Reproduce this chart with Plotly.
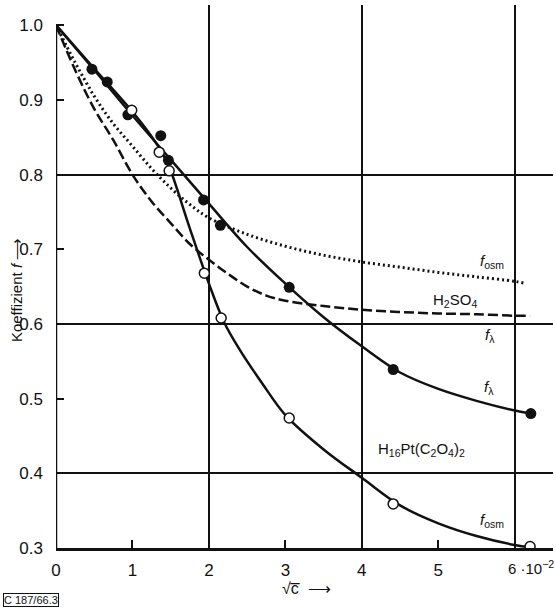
import plotly.graph_objects as go

# ---------------- data ----------------
# H16Pt(C2O4)2 : f_lambda curve and measured points (filled)
flam_curve_x = [0, 0.5, 1.0, 1.5, 2.0, 2.5, 3.0, 3.5, 4.0, 4.5, 5.0, 5.5, 6.0, 6.21]
flam_curve_y = [1.0, 0.94, 0.879, 0.82, 0.761, 0.703, 0.654, 0.609, 0.570, 0.535, 0.513, 0.497, 0.484, 0.480]
flam_pts_x = [0.47, 0.67, 0.94, 1.37, 1.47, 1.93, 2.15, 3.05, 4.41, 6.21]
flam_pts_y = [0.941, 0.924, 0.880, 0.852, 0.819, 0.766, 0.732, 0.649, 0.539, 0.480]

# H16Pt(C2O4)2 : f_osm curve and measured points (open)
fosm_curve_x = [0, 0.5, 1.0, 1.25, 1.4, 1.5, 1.75, 2.0, 2.2, 2.4, 2.7, 3.0, 3.5, 4.0, 4.5, 5.0, 5.5, 6.0, 6.2]
fosm_curve_y = [1.0, 0.942, 0.884, 0.851, 0.827, 0.805, 0.728, 0.654, 0.602, 0.566, 0.520, 0.478, 0.432, 0.394, 0.357, 0.333, 0.316, 0.304, 0.301]
fosm_pts_x = [0.99, 1.35, 1.48, 1.94, 2.16, 3.05, 4.41, 6.20]
fosm_pts_y = [0.886, 0.830, 0.805, 0.668, 0.608, 0.474, 0.359, 0.302]

# H2SO4 : f_lambda (dashed) and f_osm (dotted)
h2so4_lam_x = [0, 0.25, 0.5, 0.75, 1.0, 1.25, 1.5, 1.75, 2.0, 2.25, 2.5, 2.75, 3.0, 3.5, 4.0, 4.5, 5.0, 5.5, 6.0, 6.2]
h2so4_lam_y = [1.0, 0.94, 0.888, 0.846, 0.800, 0.764, 0.735, 0.707, 0.686, 0.667, 0.650, 0.638, 0.631, 0.624, 0.619, 0.616, 0.614, 0.613, 0.611, 0.611]
h2so4_osm_x = [0, 0.25, 0.5, 0.75, 1.0, 1.25, 1.5, 1.75, 2.0, 2.5, 3.0, 3.5, 4.0, 4.5, 5.0, 5.5, 6.0, 6.15]
h2so4_osm_y = [1.0, 0.95, 0.905, 0.868, 0.838, 0.808, 0.782, 0.760, 0.742, 0.720, 0.704, 0.692, 0.683, 0.676, 0.669, 0.663, 0.657, 0.654]

x_tick_vals = [0, 1, 2, 3, 4, 5, 6]
x_tick_text = ["0", "1", "2", "3", "4", "5", ""]
y_tick_vals = [0.3, 0.4, 0.5, 0.6, 0.7, 0.8, 0.9, 1.0]
x_grid_vals = [2, 4, 6]
y_grid_vals = [0.4, 0.6, 0.8]

X_RANGE = [0, 6.5]
Y_RANGE = [0.3, 1.027]
Y_AXIS_TOP = 1.0

# curve labels: (x, y, text)
labels = [
    (5.70, 0.683, "<i>f</i><sub>osm</sub>"),
    (5.22, 0.632, "H<sub>2</sub>SO<sub>4</sub>"),
    (5.68, 0.585, "<i>f</i><sub>λ</sub>"),
    (5.66, 0.515, "<i>f</i><sub>λ</sub>"),
    (4.78, 0.432, "H<sub>16</sub>Pt(C<sub>2</sub>O<sub>4</sub>)<sub>2</sub>"),
    (5.70, 0.337, "<i>f</i><sub>osm</sub>"),
]

FONT = "Liberation Sans, Arial, sans-serif"
BLACK = "#111111"

fig = go.Figure()

fig.add_trace(go.Scatter(x=h2so4_osm_x, y=h2so4_osm_y, mode="lines", line_shape="spline",
                         line=dict(color=BLACK, width=3, dash="2px,3px"), hoverinfo="skip"))
fig.add_trace(go.Scatter(x=h2so4_lam_x, y=h2so4_lam_y, mode="lines", line_shape="spline",
                         line=dict(color=BLACK, width=2.5, dash="10px,4px"), hoverinfo="skip"))
fig.add_trace(go.Scatter(x=fosm_curve_x, y=fosm_curve_y, mode="lines", line_shape="spline",
                         line=dict(color=BLACK, width=2.5), hoverinfo="skip"))
fig.add_trace(go.Scatter(x=flam_curve_x, y=flam_curve_y, mode="lines", line_shape="spline",
                         line=dict(color=BLACK, width=2.5), hoverinfo="skip"))
fig.add_trace(go.Scatter(x=flam_pts_x, y=flam_pts_y, mode="markers",
                         marker=dict(symbol="circle", size=11, color=BLACK, line=dict(width=0))))
fig.add_trace(go.Scatter(x=fosm_pts_x, y=fosm_pts_y, mode="markers",
                         marker=dict(symbol="circle", size=10, color="white",
                                     line=dict(width=1.5, color=BLACK))))
# dummy trace for the grid-line overlay axes
fig.add_trace(go.Scatter(x=[], y=[], xaxis="x2", yaxis="y2", showlegend=False))

for (lx, ly, lt) in labels:
    fig.add_annotation(x=lx, y=ly, text=lt, showarrow=False,
                       font=dict(family=FONT, size=15, color=BLACK))

# "6 ·10^-2" label at the last tick
fig.add_annotation(x=6, y=0, xref="x", yref="paper", yanchor="top", xanchor="left",
                   xshift=-9, yshift=-8, text="6 ·10<sup>−2</sup>", showarrow=False,
                   font=dict(family=FONT, size=15, color=BLACK))

# axis titles
fig.add_annotation(x=-0.0805, y=0.475, xref="paper", yref="paper", textangle=-90,
                   xanchor="center", yanchor="middle",
                   text="Koeffizient <i>f</i> ⟶", showarrow=False,
                   font=dict(family=FONT, size=15, color=BLACK))
fig.add_annotation(x=0.505, y=-0.0755, xref="paper", yref="paper",
                   xanchor="center", yanchor="middle",
                   text="√c\u0305  ⟶", showarrow=False,
                   font=dict(family=FONT, size=16, color=BLACK))
fig.add_annotation(x=-0.0503, y=-0.0955, xref="paper", yref="paper",
                   xanchor="center", yanchor="middle",
                   text="C 187/66.3", showarrow=False, bordercolor=BLACK, borderwidth=1,
                   borderpad=0, font=dict(family=FONT, size=11, color=BLACK))

# left axis line only from 0.3 to 1.0
fig.add_shape(type="line", xref="x", yref="y", x0=X_RANGE[0], x1=X_RANGE[0],
              y0=Y_RANGE[0], y1=Y_AXIS_TOP, line=dict(color=BLACK, width=2.5))

fig.update_layout(
    width=556, height=608,
    margin=dict(l=56, r=3, t=5, b=60, autoexpand=False),
    paper_bgcolor="white", plot_bgcolor="white",
    showlegend=False,
    font=dict(family=FONT, size=17, color=BLACK),
    xaxis=dict(range=X_RANGE, tickvals=x_tick_vals, ticktext=x_tick_text, automargin=False,
               ticks="inside", ticklen=8, tickwidth=1.5, tickcolor=BLACK,
               showgrid=False, zeroline=False, showline=True, linewidth=2.5, linecolor=BLACK,
               ticklabelstandoff=5, tickfont=dict(family=FONT, size=17, color=BLACK)),
    yaxis=dict(range=Y_RANGE, tickvals=y_tick_vals, tickformat=".1f", automargin=False,
               ticks="inside", ticklen=8, tickwidth=1.5, tickcolor=BLACK,
               showgrid=False, zeroline=False, showline=False,
               ticklabelstandoff=12, tickfont=dict(family=FONT, size=17, color=BLACK)),
    xaxis2=dict(range=X_RANGE, overlaying="x", tickvals=x_grid_vals, showticklabels=False,
                showgrid=True, gridcolor=BLACK, gridwidth=1.5, zeroline=False, showline=False,
                ticks="", automargin=False),
    yaxis2=dict(range=Y_RANGE, overlaying="y", tickvals=y_grid_vals, showticklabels=False,
                showgrid=True, gridcolor=BLACK, gridwidth=1.5, zeroline=False, showline=False,
                ticks="", automargin=False),
)

fig.write_html("out.html", config={"displayModeBar": False},
               post_script="document.body.style.margin='0';document.body.style.overflow='hidden';")
